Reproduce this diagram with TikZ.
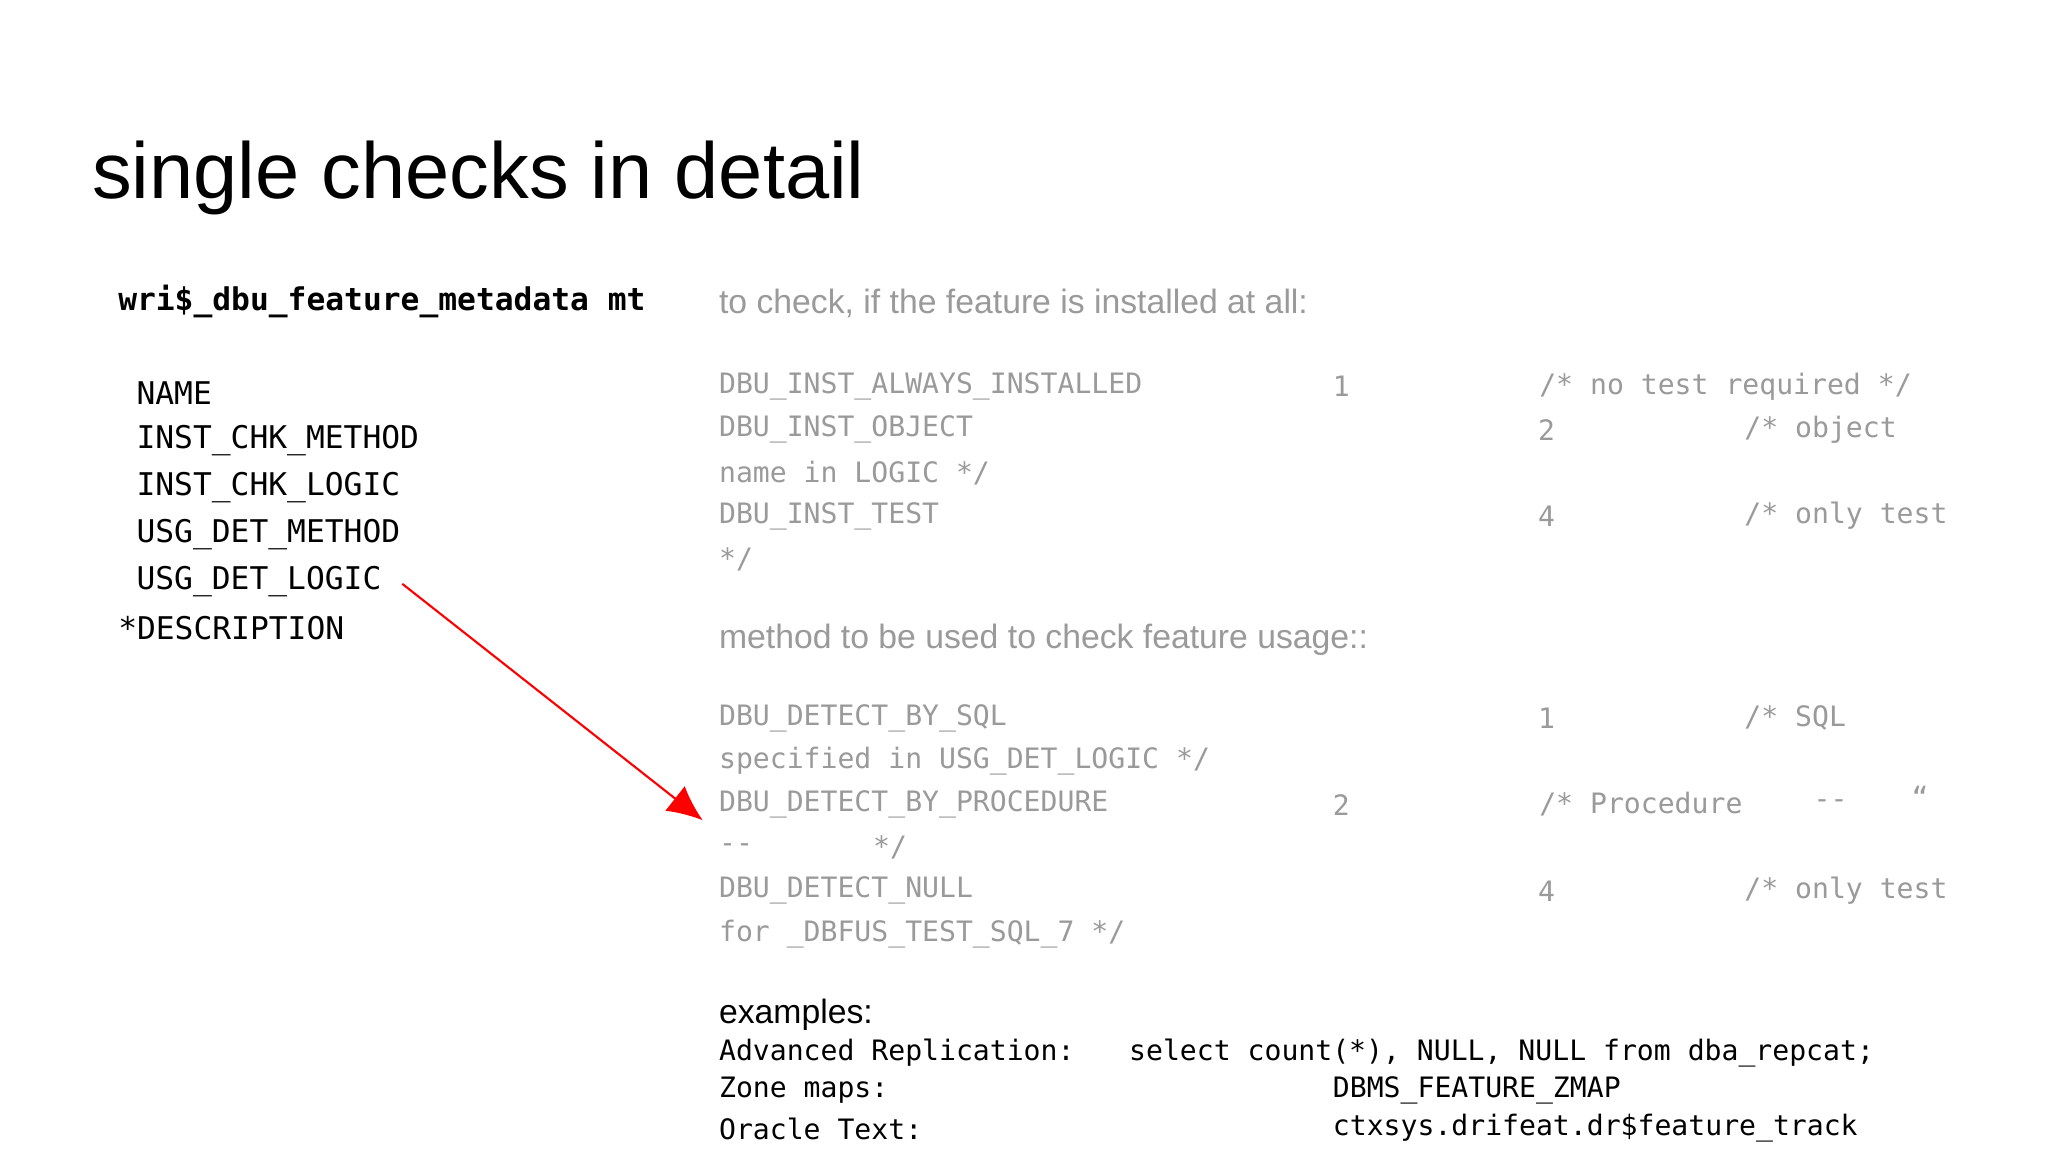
\documentclass[tikz,border=0pt]{standalone}
\usepackage{fontspec}
\setmainfont{Liberation Sans}
\newfontfamily\monof{DejaVu Sans Mono}
\usetikzlibrary{arrows.meta}
\definecolor{gr}{HTML}{9A9A9A}
\tikzset{
 t/.style={anchor=west,inner sep=0pt,yshift=-2*0.013061cm},
 mg/.style={t,font=\monof\fontsize{8}{9}\selectfont,text=gr},
 mb/.style={t,font=\monof\fontsize{8.9}{10}\selectfont},
 mk/.style={t,font=\monof\fontsize{8}{9}\selectfont},
 sg/.style={t,font=\fontsize{9.6}{11}\selectfont,text=gr},
}
\begin{document}
\begin{tikzpicture}[x=0.013061cm,y=-0.013061cm]
\useasboundingbox[fill=white] (0,0) rectangle (1568,882);
\node[t,yshift=2*0.013061cm,font=\fontsize{22.6}{26}\selectfont,anchor=base west] (title) at (70,152) {single checks in detail};
\node[mb,font=\monof\bfseries\fontsize{8.9}{10}\selectfont] (tab) at (90,229) {wri\$\_dbu\_feature\_metadata mt};
\node[mb] (c1) at (104,299) {NAME};
\node[mb] (c2) at (104,335) {INST\_CHK\_METHOD};
\node[mb] (c3) at (104,371) {INST\_CHK\_LOGIC};
\node[mb] (c4) at (104,407) {USG\_DET\_METHOD};
\node[mb] (c5) at (104,443) {USG\_DET\_LOGIC};
\node[mb] (c6) at (90,479) {*DESCRIPTION};
\node[sg] (h1) at (550,230) {to check, if the feature is installed at all:};
\node[mg] (a1) at (550,294) {DBU\_INST\_ALWAYS\_INSTALLED};
\node[mg] at (1020,294) {1};
\node[mg] at (1178,294) {/* no test required */};
\node[mg] (a2) at (550,327) {DBU\_INST\_OBJECT};
\node[mg] at (1177,327) {2};
\node[mg] at (1335,327) {/* object};
\node[mg] at (550,360) {name in LOGIC */};
\node[mg] (a3) at (550,393) {DBU\_INST\_TEST};
\node[mg] at (1177,393) {4};
\node[mg] at (1335,393) {/* only test};
\node[mg] at (550,426) {*/};
\node[sg] (h2) at (550,488) {method to be used to check feature usage::};
\node[mg] (b1) at (550,548) {DBU\_DETECT\_BY\_SQL};
\node[mg] at (1177,548) {1};
\node[mg] at (1335,548) {/* SQL};
\node[mg] at (550,581) {specified in USG\_DET\_LOGIC */};
\node[mg] (b2) at (550,614) {DBU\_DETECT\_BY\_PROCEDURE};
\node[mg] at (1020,614) {2};
\node[mg] at (1178,614) {/* Procedure};
\node[mg] at (1388,614) {--};
\node[mg] at (1463,608) {“};
\node[mg] (b2b) at (550,647) {--};
\node[mg] at (668,647) {*/};
\node[mg] (b3) at (550,680) {DBU\_DETECT\_NULL};
\node[mg] at (1177,680) {4};
\node[mg] at (1335,680) {/* only test};
\node[mg] at (550,713) {for \_DBFUS\_TEST\_SQL\_7 */};
\node[t,font=\fontsize{9.6}{11}\selectfont] (ex) at (550,775) {examples:};
\node[mk] at (550,804) {Advanced Replication:};
\node[mk] at (864,804) {select count(*), NULL, NULL from dba\_repcat;};
\node[mk] at (550,833) {Zone maps:};
\node[mk] at (1020,833) {DBMS\_FEATURE\_ZMAP};
\node[mk] at (550,862) {Oracle Text:};
\node[mk] at (1020,862) {ctxsys.drifeat.dr\$feature\_track};
\coordinate (s) at (308,447);
\coordinate (e) at (538,628);
\draw[red,line width=0.6pt,-{Latex[length=10pt,width=9pt]}] (s) -- (e);
\end{tikzpicture}
\end{document}
